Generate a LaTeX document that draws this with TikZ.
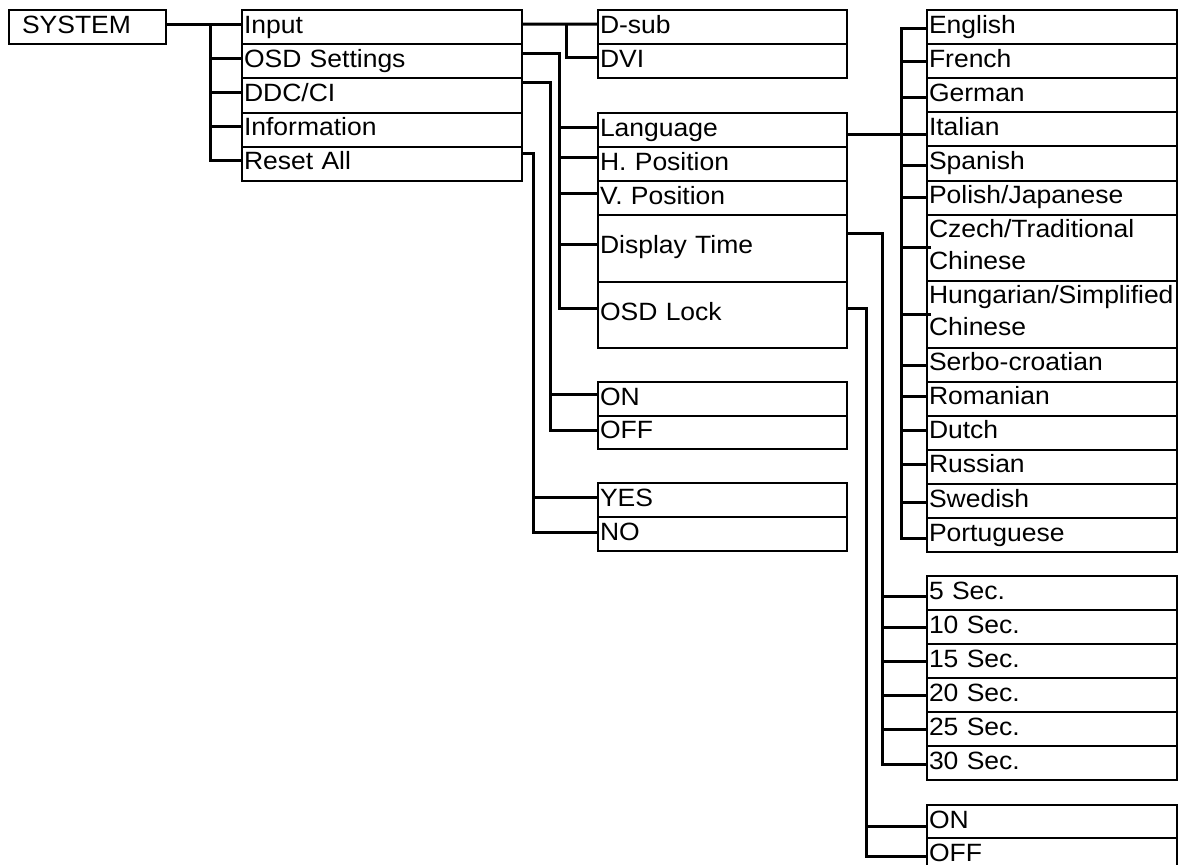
\documentclass[tikz,border=0pt]{standalone}
\usepackage{fontspec}
\newfontfamily\lab[FakeStretch=1.06]{Liberation Sans}
\begin{document}
\begin{tikzpicture}[x=1pt,y=-1pt,
  box/.style={draw, line width=2pt, anchor=north west, outer sep=0pt,
    inner xsep=2pt, inner ysep=0pt, align=left,
    font=\lab\fontsize{25}{32}\selectfont,
    execute at begin node={\hyphenpenalty=10000\exhyphenpenalty=10000}},
  wA/.style={box, text width=276pt},
  wB/.style={box, text width=245pt},
  wC/.style={box, text width=246pt},
  hone/.style={text height=23pt, text depth=11.1pt},
  hmain/.style={text height=23pt, text depth=11.2pt},
  htwo/.style={text height=22.5pt, text depth=44pt},
  hmid/.style={text height=38.5pt, text depth=28pt},
  conn/.style={line width=3pt}]
\useasboundingbox (0,0) rectangle (1187,865);
\clip (0,0) rectangle (1187,865);

% SYSTEM
\node[box, text width=153pt, hmain] (sys) at (9,10) {\hspace*{11pt}SYSTEM};

% main menu
\node[wA, hmain] (input) at (242,10)    {Input};
\node[wA, hmain] (osd)   at (242,44.2)  {OSD Settings};
\node[wA, hmain] (ddc)   at (242,78.4)  {DDC/CI};
\node[wA, hmain] (info)  at (242,112.6) {Information};
\node[wA, hmain] (reset) at (242,146.8) {Reset All};

% input submenu
\node[wB, hone] (dsub) at (598,10) {D-sub};
\node[wB, hone] (dvi)  at (598,44.1) {DVI};

% OSD settings submenu
\node[wB, hone] (lang)  at (598,113)   {Language};
\node[wB, hone] (hpos)  at (598,147.1) {H. Position};
\node[wB, hone] (vpos)  at (598,181.2) {V. Position};
\node[wB, hmid] (dtime) at (598,215.3) {Display Time};
\node[wB, hmid] (lock)  at (598,281.8) {OSD Lock};

% DDC/CI submenu
\node[wB, text height=23pt, text depth=10.5pt] (on1)  at (598,382)   {ON};
\node[wB, text height=23pt, text depth=10.5pt] (off1) at (598,415.5) {OFF};

% Reset submenu
\node[wB, hone] (yes) at (598,483) {YES};
\node[wB, hone] (no)  at (598,517.1) {NO};

% languages
\node[wC, hone] (l1)  at (927,10)    {English};
\node[wC, hone] (l2)  at (927,44.1)  {French};
\node[wC, hone] (l3)  at (927,78.2)  {German};
\node[wC, hone] (l4)  at (927,112.3) {Italian};
\node[wC, hone] (l5)  at (927,146.4) {Spanish};
\node[wC, hone] (l6)  at (927,180.5) {Polish/Japanese};
\node[wC, htwo] (l7)  at (927,214.6) {Czech/Traditional\\Chinese};
\node[wC, htwo] (l8)  at (927,281.1) {Hungarian/Simplified\\Chinese};
\node[wC, hone] (l9)  at (927,347.6) {Serbo-croatian};
\node[wC, hone] (l10) at (927,381.7) {Romanian};
\node[wC, hone] (l11) at (927,415.8) {Dutch};
\node[wC, hone] (l12) at (927,449.9) {Russian};
\node[wC, hone] (l13) at (927,484)   {Swedish};
\node[wC, hone] (l14) at (927,518.1) {Portuguese};

% display time values
\node[wC, text height=23pt, text depth=11pt] (s1) at (927,576) {5 Sec.};
\node[wC, text height=23pt, text depth=11pt] (s2) at (927,610) {10 Sec.};
\node[wC, text height=23pt, text depth=11pt] (s3) at (927,644) {15 Sec.};
\node[wC, text height=23pt, text depth=11pt] (s4) at (927,678) {20 Sec.};
\node[wC, text height=23pt, text depth=11pt] (s5) at (927,712) {25 Sec.};
\node[wC, text height=23pt, text depth=11pt] (s6) at (927,746) {30 Sec.};

% OSD lock values
\node[wC, text height=23pt, text depth=10pt] (on2)  at (927,805) {ON};
\node[wC, text height=23pt, text depth=10pt] (off2) at (927,838) {OFF};

% ---------- connectors ----------
% SYSTEM -> main
\draw[conn] ([yshift=3pt]sys.east) -- ([yshift=3pt]input.west);
\draw[conn] ([yshift=3pt]reset.west) -- ++(-32pt,0) |- ([yshift=3pt]input.west);
\foreach \n in {osd,ddc,info}
  \draw[conn] ([yshift=3pt]\n.west) -- ++(-32pt,0);

% Input -> D-sub / DVI
\draw[conn] ([yshift=3pt]input.east) -- ([yshift=3pt]dsub.west);
\draw[conn] ([xshift=-32pt,yshift=3pt]dsub.west) |- ([yshift=4pt]dvi.west);

% OSD Settings -> submenu
\draw[conn] ([yshift=8pt]osd.east) -| ([xshift=-39pt,yshift=7pt]lock.west) -- ([yshift=7pt]lock.west);
\draw[conn] ([yshift=3pt]lang.west) -- ++(-39pt,0);
\draw[conn] ([yshift=7pt]hpos.west) -- ++(-39pt,0);
\draw[conn] ([yshift=5pt]vpos.west) -- ++(-39pt,0);
\draw[conn] ([yshift=4.5pt]dtime.west) -- ++(-39pt,0);

% DDC/CI -> ON / OFF
\draw[conn] ([yshift=13.5pt]ddc.east) -| ([xshift=-48pt,yshift=2pt]off1.west) -- ([yshift=2pt]off1.west);
\draw[conn] ([yshift=4pt]on1.west) -- ++(-48pt,0);

% Reset All -> YES / NO
\draw[conn] ([yshift=10pt]reset.east) -| ([xshift=-65pt,yshift=2pt]no.west) -- ([yshift=2pt]no.west);
\draw[conn] ([yshift=3pt]yes.west) -- ++(-65pt,0);

% Language -> languages
\draw[conn] ([yshift=-4pt]lang.east) -- ([yshift=-4pt]lang.east -| l4.west);
\draw[conn] ([yshift=-1pt]l1.west) -- ++(-26pt,0) |- ([yshift=-3pt]l14.west);
\draw[conn] ([yshift=0pt]l2.west) -- ++(-26pt,0);
\draw[conn] ([yshift=-2pt]l3.west) -- ++(-26pt,0);
\draw[conn] ([yshift=-2.5pt]l5.west) -- ++(-26pt,0);
\draw[conn] ([yshift=0.5pt]l6.west) -- ++(-26pt,0);
\draw[conn] ([xshift=4pt]l7.west) -- ++(-30pt,0);
\draw[conn] ([xshift=4pt,yshift=-0.5pt]l8.west) -- ++(-30pt,0);
\draw[conn] ([yshift=-1pt]l9.west) -- ++(-26pt,0);
\draw[conn] ([yshift=2pt]l10.west) -- ++(-26pt,0);
\draw[conn] ([yshift=2pt]l11.west) -- ++(-26pt,0);
\draw[conn] ([yshift=2pt]l12.west) -- ++(-26pt,0);
\draw[conn] ([yshift=-1pt]l13.west) -- ++(-26pt,0);

% Display Time -> seconds
\draw[conn] ([yshift=15.5pt]dtime.east) -| ([xshift=-45pt,yshift=-1pt]s6.west) -- ([yshift=-1pt]s6.west);
\draw[conn] ([yshift=-3pt]s1.west) -- ++(-45pt,0);
\foreach \n in {s2,s3,s4,s5}
  \draw[conn] (\n.west) -- ++(-45pt,0);

% OSD Lock -> ON / OFF
\draw[conn] ([yshift=7pt]lock.east) -| ([xshift=-61pt,yshift=-1.5pt]off2.west) -- ([yshift=-1.5pt]off2.west);
\draw[conn] ([yshift=-4.5pt]on2.west) -- ++(-61pt,0);
\end{tikzpicture}
\end{document}
